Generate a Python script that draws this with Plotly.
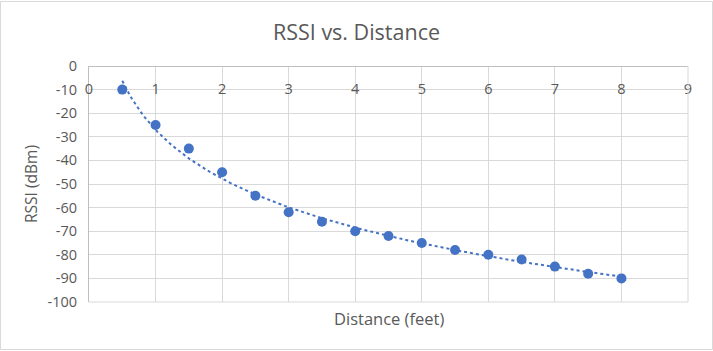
import numpy as np
import plotly.graph_objects as go

distance = [0.5, 1, 1.5, 2, 2.5, 3, 3.5, 4, 4.5, 5, 5.5, 6, 6.5, 7, 7.5, 8]
rssi = [-10, -25, -35, -45, -55, -62, -66, -70, -72, -75, -78, -80, -82, -85, -88, -90]
y_ticks = list(range(0, -101, -10))
y_tick_labels = [str(v) for v in y_ticks]  # plain hyphen, as in the reference
x_ticks = list(range(0, 10))

# logarithmic trendline (least squares on ln x), as Excel does
b, a = np.polyfit(np.log(distance), rssi, 1)
tx = np.linspace(min(distance), max(distance), 200)
ty = a + b * np.log(tx)

W, H = 713, 351
L, R, T, B = 89, 25, 66, 49
pw, ph = W - L - R, H - T - B

blue = "#4472C4"
txt = "#595959"
font = "Open Sans, Lato, sans-serif"

fig = go.Figure()
fig.add_trace(go.Scatter(x=tx, y=ty, mode="lines",
                         line=dict(color=blue, width=2, dash="dot"),
                         hoverinfo="skip"))
fig.add_trace(go.Scatter(x=distance, y=rssi, mode="markers",
                         marker=dict(color=blue, size=10)))

fig.update_layout(
    width=W, height=H,
    margin=dict(l=L, r=R, t=T, b=B),
    paper_bgcolor="white", plot_bgcolor="white",
    showlegend=False,
    font=dict(family=font, color=txt, size=14),
    title=dict(text="RSSI vs. Distance", x=0.5, xanchor="center",
               y=1 - 32 / H, yanchor="middle",
               font=dict(size=21.5, color=txt, family=font)),
    xaxis=dict(range=[0, 9], tickvals=x_ticks,
               showgrid=True, gridcolor="#D9D9D9", gridwidth=1,
               showline=True, linecolor="#BFBFBF", linewidth=1,
               zeroline=False,
               anchor="free", position=1, side="bottom",
               ticks="", ticklabelstandoff=10,
               tickfont=dict(size=14.5, color=txt)),
    yaxis=dict(range=[-100, 0], tickvals=y_ticks, ticktext=y_tick_labels,
               showgrid=True, gridcolor="#D9D9D9", gridwidth=1,
               showline=True, linecolor="#BFBFBF", linewidth=1,
               zeroline=False, ticks="outside", ticklen=8,
               tickcolor="rgba(0,0,0,0)",
               tickfont=dict(size=14.5, color=txt),
               title=dict(text="RSSI (dBm)", standoff=6,
                          font=dict(size=15.5, color=txt))),
)

# right/bottom plot edges as grid-coloured border
fig.add_shape(type="line", xref="paper", yref="paper", x0=1, x1=1, y0=0, y1=1,
              line=dict(color="#D9D9D9", width=1))
fig.add_shape(type="line", xref="paper", yref="paper", x0=0, x1=1, y0=0, y1=0,
              line=dict(color="#D9D9D9", width=1))

# x axis title
fig.add_annotation(text="Distance (feet)", xref="paper", yref="paper",
                   x=(389 - L) / pw, y=-(318 - (T + ph)) / ph,
                   xanchor="center", yanchor="middle", showarrow=False,
                   font=dict(size=16.5, color=txt, family=font))

# chart frame
fig.add_shape(type="rect", xref="paper", yref="paper",
              x0=-(L - 0.5) / pw, x1=(W - 0.5 - L) / pw,
              y0=-(H - 1.5 - (T + ph)) / ph, y1=1 + (T - 1.5) / ph,
              line=dict(color="#D9D9D9", width=1), layer="below")

fig.write_html("out.html")
